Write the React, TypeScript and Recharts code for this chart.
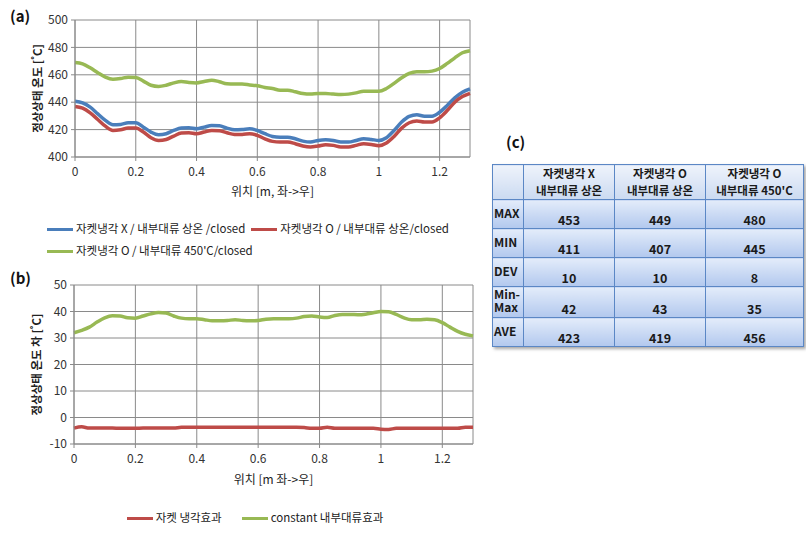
import React from 'react'
import { LineChart, Line, XAxis, YAxis, CartesianGrid, Legend } from 'recharts'

// position along the part [m]
const X_POS = [
  0, 0.025, 0.05, 0.075, 0.1, 0.125, 0.15, 0.175, 0.2, 0.225, 0.25, 0.275, 0.3,
  0.325, 0.35, 0.375, 0.4, 0.425, 0.45, 0.475, 0.5, 0.525, 0.55, 0.575, 0.6,
  0.625, 0.65, 0.675, 0.7, 0.725, 0.75, 0.775, 0.8, 0.825, 0.85, 0.875, 0.9,
  0.925, 0.95, 0.975, 1, 1.025, 1.05, 1.075, 1.1, 1.125, 1.15, 1.175, 1.2,
  1.225, 1.25, 1.275, 1.3,
]

// (a) steady state temperature
const JACKET_X_ROOM = [
  440.7, 439.5, 436.4, 431.5, 426.7, 423.5, 423.8, 425.0, 425.0, 421.8, 418.2, 416.2, 417.0,
  419.4, 421.1, 421.3, 420.6, 421.8, 423.0, 422.8, 421.1, 419.9, 420.1, 420.6, 419.4,
  417.0, 415.0, 414.5, 414.5, 413.3, 411.6, 410.9, 412.1, 412.6, 412.1, 410.9, 410.9,
  412.1, 413.3, 412.8, 412.1, 414.1, 419.4, 425.5, 429.6, 430.8, 429.8, 429.8, 432.7,
  437.6, 443.2, 447.3, 449.7,
]
const JACKET_O_ROOM = [
  436.8, 435.6, 432.2, 427.4, 422.5, 419.4, 419.9, 421.1, 421.1, 418.2, 414.1, 412.1, 412.8,
  415.3, 417.5, 417.7, 417.0, 418.2, 419.4, 419.2, 417.7, 416.5, 416.5, 417.0, 415.8,
  413.3, 411.4, 410.9, 410.9, 409.7, 408.0, 407.3, 408.0, 409.0, 408.5, 407.3, 407.3,
  408.5, 409.7, 409.2, 408.2, 410.2, 415.0, 421.1, 425.0, 426.2, 425.5, 425.5, 428.6,
  433.9, 440.0, 444.1, 446.5,
]
const JACKET_O_450 = [
  469.0, 468.0, 465.1, 461.5, 458.3, 456.8, 457.3, 458.3, 458.0, 455.4, 452.4, 451.5, 452.4,
  454.1, 455.1, 454.4, 454.1, 455.1, 456.1, 454.9, 453.4, 453.2, 453.2, 452.6, 452.0,
  450.8, 450.0, 448.8, 448.8, 447.6, 446.3, 445.9, 446.3, 446.3, 445.9, 445.6, 445.9,
  446.8, 448.0, 448.0, 448.0, 450.0, 453.7, 457.8, 461.0, 462.2, 462.2, 462.7, 464.6,
  468.3, 472.4, 476.1, 477.6,
]

// (b) temperature difference
const JACKET_EFFECT = [
  -4.0, -3.5, -4.0, -4.0, -4.0, -4.0, -4.1, -4.1, -4.1, -4.0, -4.0, -4.0, -4.0,
  -4.0, -3.7, -3.7, -3.7, -3.7, -3.7, -3.7, -3.7, -3.7, -3.7, -3.7, -3.7,
  -3.7, -3.7, -3.7, -3.7, -3.7, -3.8, -4.1, -4.1, -3.7, -4.1, -4.1, -4.1,
  -4.1, -4.1, -4.1, -4.4, -4.5, -4.1, -4.1, -4.1, -4.1, -4.1, -4.1, -4.1,
  -4.1, -4.1, -3.7, -3.7,
]
const CONVECTION_EFFECT = [
  32.0, 32.9, 34.1, 36.0, 37.6, 38.4, 38.3, 37.6, 37.5, 38.3, 39.1, 39.6, 39.4,
  38.3, 37.5, 37.3, 37.3, 36.9, 36.5, 36.5, 36.6, 36.9, 36.6, 36.5, 36.6,
  37.1, 37.3, 37.3, 37.3, 37.5, 38.1, 38.3, 37.9, 37.7, 38.5, 38.9, 38.9,
  38.8, 39.0, 39.5, 40.0, 39.9, 38.9, 37.6, 36.9, 36.9, 37.1, 36.9, 35.8,
  34.1, 32.5, 31.4, 30.8,
]

const X_TICKS = [0, 0.2, 0.4, 0.6, 0.8, 1, 1.2]
const Y_TICKS_A = [400, 420, 440, 460, 480, 500]
const Y_TICKS_B = [-10, 0, 10, 20, 30, 40, 50]

// (c) summary table
const TABLE_HEAD = [
  ['자켓냉각 X', '내부대류 상온'],
  ['자켓냉각 O', '내부대류 상온'],
  ['자켓냉각 O', "내부대류 450'C"],
]
const TABLE_ROWS = ['MAX', 'MIN', 'DEV', 'Min-\nMax', 'AVE']
const COL_X_ROOM = [453, 411, 10, 42, 423]
const COL_O_ROOM = [449, 407, 10, 43, 419]
const COL_O_450 = [480, 445, 8, 35, 456]

const FONT = '"Noto Sans CJK KR", "Noto Sans", sans-serif'
const BLUE = '#4a7ebb'
const RED = '#be4b48'
const GREEN = '#98b954'
const GRID = '#8a8a8a'

const dataA = X_POS.map((x, i) => ({
  x,
  s1: JACKET_X_ROOM[i],
  s2: JACKET_O_ROOM[i],
  s3: JACKET_O_450[i],
}))
const dataB = X_POS.map((x, i) => ({
  x,
  s1: JACKET_EFFECT[i],
  s2: CONVECTION_EFFECT[i],
}))

const tick = { fontSize: 12, fill: '#333', fontFamily: FONT }

const legendContent = (gap: number, align: 'left' | 'center') => (props: any) => (
  <div style={{ fontSize: 11.5, color: '#222', lineHeight: '22px', textAlign: align, fontFamily: FONT }}>
    {(props.payload || []).map((p: any) => (
      <span key={p.value} style={{ display: 'inline-block', marginRight: gap, whiteSpace: 'nowrap' }}>
        <span
          style={{
            display: 'inline-block', width: 26, height: 3, background: p.color,
            verticalAlign: 'middle', marginRight: 3,
          }}
        />
        {p.value}
      </span>
    ))}
  </div>
)

function SummaryTable() {
  const widths = [31, 91, 91, 98]
  const heights = [34, 29, 29, 29, 29, 29]
  const cols = [COL_X_ROOM, COL_O_ROOM, COL_O_450]
  const border = '1px solid #5b87c5'
  const cellBg = 'linear-gradient(#e3ecfa, #b2c8ee)'
  const headBg = 'linear-gradient(#eef3fb, #cbdaf1)'
  return (
    <table
      style={{
        position: 'absolute', left: 492, top: 164, width: 311, borderCollapse: 'collapse', tableLayout: 'fixed',
        fontFamily: FONT, fontWeight: 700, fontSize: 12.5, color: '#1a1a1a',
        boxShadow: '2px 2px 3px rgba(0,0,0,0.35)',
      }}
    >
      <colgroup>
        {widths.map((w, i) => (
          <col key={i} style={{ width: w }} />
        ))}
      </colgroup>
      <tbody>
        <tr style={{ height: heights[0] }}>
          <td style={{ border, background: headBg, padding: 0 }} />
          {TABLE_HEAD.map((h, i) => (
            <td
              key={i}
              style={{
                border, background: headBg, padding: 0, textAlign: 'center',
                lineHeight: '17px', fontSize: 11.5, whiteSpace: 'nowrap',
              }}
            >
              <div>{h[0]}</div>
              <div>{h[1]}</div>
            </td>
          ))}
        </tr>
        {TABLE_ROWS.map((r, ri) => (
          <tr key={r} style={{ height: heights[ri + 1] }}>
            <td
              style={{
                border, background: cellBg, padding: '0 0 4px 1px', lineHeight: '13px',
                whiteSpace: 'pre', verticalAlign: 'middle', fontSize: 12,
              }}
            >
              {r}
            </td>
            {cols.map((c, ci) => (
              <td
                key={ci}
                style={{
                  border, background: cellBg, padding: 0, textAlign: 'center',
                  verticalAlign: 'bottom', lineHeight: '16px',
                }}
              >
                {c[ri]}
              </td>
            ))}
          </tr>
        ))}
      </tbody>
    </table>
  )
}

export default function App() {
  const tag = { position: 'absolute' as const, fontFamily: FONT, fontWeight: 700, fontSize: 15, color: '#111' }
  return (
    <div style={{ position: 'absolute', left: 0, top: 0, width: 806, height: 536, background: '#fff', fontFamily: FONT }}>
      <div style={{ ...tag, left: 10, top: 5 }}>(a)</div>
      <div style={{ ...tag, left: 10, top: 267 }}>(b)</div>
      <div style={{ ...tag, left: 506, top: 131 }}>(c)</div>

      <div style={{ position: 'absolute', left: 0, top: 0 }}>
        <LineChart width={480} height={262} data={dataA} margin={{ top: 20, right: 10, left: 0, bottom: 18 }}>
          <CartesianGrid stroke={GRID} strokeWidth={1} />
          <XAxis
            dataKey="x" type="number" domain={[0, 1.3]} ticks={X_TICKS} height={43}
            stroke={GRID} tickSize={4} tickMargin={6} tick={tick}
            label={{ value: '위치 [m, 좌->우]', position: 'insideBottom', offset: 4, fontSize: 12, fill: '#222', fontFamily: FONT }}
          />
          <YAxis
            type="number" domain={[400, 500]} ticks={Y_TICKS_A} width={75}
            stroke={GRID} tickSize={4} tickMargin={3} tick={tick}
            label={{ value: '정상상태 온도 [˚C]', angle: -90, position: 'center', fontSize: 11.5, fontWeight: 700, fill: '#222', fontFamily: FONT }}
          />
          <Legend
            verticalAlign="bottom"
            itemSorter="dataKey"
            wrapperStyle={{ left: 47, top: 217, width: 425, height: 44 }}
            content={legendContent(6, 'left')}
          />
          <Line type="monotone" dataKey="s1" name="자켓냉각 X / 내부대류 상온 /closed" stroke={BLUE} strokeWidth={3.5} dot={false} isAnimationActive={false} />
          <Line type="monotone" dataKey="s2" name="자켓냉각 O / 내부대류 상온/closed" stroke={RED} strokeWidth={3.5} dot={false} isAnimationActive={false} />
          <Line type="monotone" dataKey="s3" name="자켓냉각 O / 내부대류 450'C/closed" stroke={GREEN} strokeWidth={3.5} dot={false} isAnimationActive={false} />
        </LineChart>
      </div>

      <div style={{ position: 'absolute', left: 0, top: 260 }}>
        <LineChart width={480} height={276} data={dataB} margin={{ top: 25, right: 7, left: 0, bottom: 27 }}>
          <CartesianGrid stroke={GRID} strokeWidth={1} />
          <XAxis
            dataKey="x" type="number" domain={[0, 1.3]} ticks={X_TICKS} height={43}
            stroke={GRID} tickSize={4} tickMargin={6} tick={tick}
            label={{ value: '위치 [m 좌->우]', position: 'insideBottom', offset: 3, fontSize: 12, fill: '#222', fontFamily: FONT }}
          />
          <YAxis
            type="number" domain={[-10, 50]} ticks={Y_TICKS_B} width={74}
            stroke={GRID} tickSize={4} tickMargin={3} tick={tick}
            label={{ value: '정상상태 온도 차 [˚C]', angle: -90, position: 'center', fontSize: 11.5, fontWeight: 700, fill: '#222', fontFamily: FONT }}
          />
          <Legend
            verticalAlign="bottom"
            itemSorter="dataKey"
            wrapperStyle={{ left: 30, top: 246, width: 470, height: 22 }}
            content={legendContent(20, 'center')}
          />
          <Line type="monotone" dataKey="s1" name="자켓 냉각효과" stroke={RED} strokeWidth={3.5} dot={false} isAnimationActive={false} />
          <Line type="monotone" dataKey="s2" name="constant 내부대류효과" stroke={GREEN} strokeWidth={3.5} dot={false} isAnimationActive={false} />
        </LineChart>
      </div>

      <SummaryTable />
    </div>
  )
}
